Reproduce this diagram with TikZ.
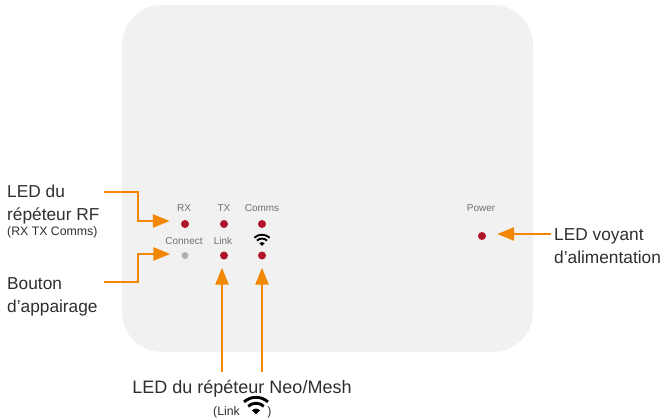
\documentclass[tikz,border=0pt]{standalone}
\usepackage{fontspec}
\setmainfont{Liberation Sans}
\usepackage{xcolor}
\usetikzlibrary{arrows.meta, positioning, calc}
\definecolor{boxgray}{HTML}{F1F1F1}
\definecolor{leadorange}{HTML}{F28705}
\definecolor{ledred}{HTML}{B01528}
\definecolor{tagtext}{HTML}{707070}
\definecolor{calltext}{HTML}{2E2E2E}
\newcommand{\wifiicon}[2]{%
  \begin{scope}[shift={#1},scale=#2]
   \draw[line width=#2*1.7pt,black] (-7,-3) .. controls (-3,-6.6) and (3,-6.6) .. (7,-3);
   \draw[line width=#2*1.7pt,black] (-4.6,-.4) .. controls (-2,-2.8) and (2,-2.8) .. (4.6,-.4);
   \fill[black] (-2.4,2) .. controls (-1,.6) and (1,.6) .. (2.4,2) -- (0,4.4) -- cycle;
  \end{scope}}
\tikzset{
  led/.style={circle,fill=ledred,minimum size=8pt,inner sep=0pt},
  ledoff/.style={circle,fill=black!30,minimum size=7pt,inner sep=0pt},
  tag/.style={font=\fontsize{10}{12}\selectfont,text=tagtext,inner sep=0pt},
  call/.style={font=\fontsize{17.3}{23}\selectfont,text=calltext,inner sep=0pt,align=left,anchor=north west},
  small/.style={font=\fontsize{12.3}{14}\selectfont,text=calltext,inner sep=0pt},
  leader/.style={line width=2.6pt,leadorange,-{Triangle[length=17pt,width=13pt]}}
}
\begin{document}
\begin{tikzpicture}[x=1pt,y=-1pt]
   \useasboundingbox (0,0) rectangle (662,418);
   \fill[boxgray,rounded corners=40pt] (122,5) rectangle (533,352);

   \node[led] (ledrx) at (185,224) {};
   \node[led] (ledtx) at (224,224) {};
   \node[led] (ledcomms) at (262,224) {};
   \node[ledoff] (ledconnect) at (185,255.5) {};
   \node[led] (ledlink) at (224,255.5) {};
   \node[led] (ledwifi) at (262,255.5) {};
   \node[led] (ledpower) at (482,236) {};

   \node[tag] (rx) at (184,208) {RX};
   \node[tag] (tx) at (224,208) {TX};
   \node[tag] (comms) at (262,208) {Comms};
   \node[tag] (connect) at (184,241) {Connect};
   \node[tag] (link) at (223,241) {Link};
   \node[tag] (power) at (481,208) {Power};
   \wifiicon{(262,241)}{1.1}

   \node[call] (rflabel) at (7,184.5) {LED du\\répéteur RF};
   \node[small,anchor=west] (rfsmall) at (7,232.5) {(RX TX Comms)};
   \node[call] (pairlabel) at (7,277) {Bouton\\d’appairage};
   \node[call] (powerlabel) at (554,228) {LED voyant\\d’alimentation};
   \node[call,anchor=center,font=\fontsize{18}{23}\selectfont] (meshlabel) at (242,388.5) {LED du répéteur Neo/Mesh};
   \node[small,anchor=west] (meshsmall) at (213,412) {(Link \hspace{24pt})};
   \wifiicon{(256,407)}{1.7}

   \coordinate (rfstart) at (104,192);
   \coordinate (pairstart) at (104,282);
   \coordinate (linkstart) at (222,372);
   \coordinate (wifistart) at (262,372);
   \coordinate (powerstart) at (551,234);

   \draw[leader,shorten >=11pt] (rfstart) -- ++(34,0) |- ([yshift=3pt]ledrx.west);
   \draw[leader,shorten >=11pt] (pairstart) -- ++(34,0) |- ([yshift=1.5pt]ledconnect.west);
   \draw[leader,shorten >=8pt] (linkstart) -- ([xshift=-2pt]ledlink.south);
   \draw[leader,shorten >=8pt] (wifistart) -- (ledwifi.south);
   \draw[leader,shorten >=11pt] (powerstart) -- ([yshift=2pt]ledpower.east);
\end{tikzpicture}
\end{document}
